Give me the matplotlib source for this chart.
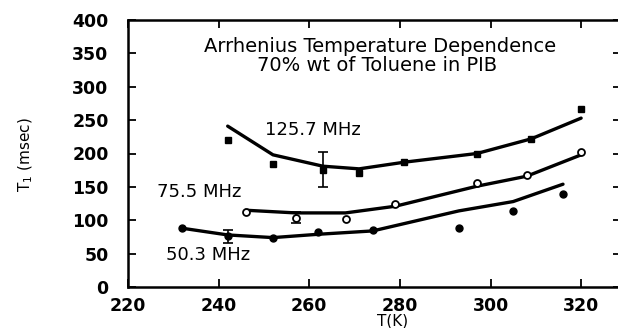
import numpy as np
import matplotlib.pyplot as plt

# T1 relaxation times, 70% wt toluene in PIB
t_125 = [242, 252, 263, 271, 281, 297, 309, 320]
t1_125 = [220, 184, 176, 171, 187, 200, 222, 267]
fit_125 = [241, 198, 181, 177, 187, 200, 222, 253]

t_75 = [246, 257, 268, 279, 297, 308, 320]
t1_75 = [113, 104, 102, 124, 156, 168, 202]
fit_75 = [115, 111, 111, 121, 151, 166, 198]

t_50 = [232, 242, 252, 262, 274, 293, 305, 316]
t1_50 = [89, 76, 74, 82, 85, 88, 114, 140]
fit_50 = [88, 78, 74, 79, 84, 114, 128, 154]

# error bars shown on one point per series
err_t = [263, 257, 242]
err_val = [176, 104, 76]
err_size = [26, 8, 10]

W, H = 618, 328
fig = plt.figure(figsize=(W / 100, H / 100), dpi=100)
# right spine sits just past the figure edge
ax = fig.add_axes([128 / W, 41 / H, 493 / W, 267 / H])

lw = 2.4
ax.plot(t_125, fit_125, color="black", lw=lw, solid_capstyle="round")
ax.plot(t_75, fit_75, color="black", lw=lw, solid_capstyle="round")
ax.plot(t_50, fit_50, color="black", lw=lw, solid_capstyle="round")

ax.plot(t_125, t1_125, "s", color="black", ms=5, zorder=3)
ax.plot(t_75, t1_75, "o", mfc="white", mec="black", mew=1.3, ms=5, zorder=3)
ax.plot(t_50, t1_50, "o", color="black", ms=5, zorder=3)

ax.errorbar(err_t, err_val, yerr=err_size, fmt="none", ecolor="black",
            elinewidth=1.2, capsize=3.5, capthick=1.2, zorder=2)

ax.set_xlim(220, 328.8)
ax.set_ylim(0, 400)
ax.set_xticks([220, 240, 260, 280, 300, 320])
ax.set_yticks(np.arange(0, 401, 50))

for side in ["left", "right", "top", "bottom"]:
    ax.spines[side].set_linewidth(1.8)

ax.tick_params(direction="in", top=True, right=True, length=6, width=1.3,
               labelsize=12.5)
ax.tick_params(axis="y", pad=14)
ax.tick_params(axis="x", pad=7)
for lbl in ax.get_xticklabels() + ax.get_yticklabels():
    lbl.set_fontweight("bold")

ax.set_xlabel("T(K)", fontsize=11)
ax.xaxis.set_label_coords((393 - 128) / 493, -(314 - 287) / 267)
ax.set_ylabel("T$_1$ (msec)", fontsize=11)
ax.yaxis.set_label_coords((35 - 128) / 493, (287 - 155) / 267)

ax.text(275.6, 352, "Arrhenius Temperature Dependence", ha="center",
        va="baseline", fontsize=14)
ax.text(275.0, 323, "70% wt of Toluene in PIB", ha="center",
        va="baseline", fontsize=14)
ax.text(250.2, 228, "125.7 MHz", fontsize=13, va="baseline")
ax.text(226.4, 135, "75.5 MHz", fontsize=13, va="baseline")
ax.text(228.4, 40, "50.3 MHz", fontsize=13, va="baseline")

fig.savefig("out.png", dpi=100)
